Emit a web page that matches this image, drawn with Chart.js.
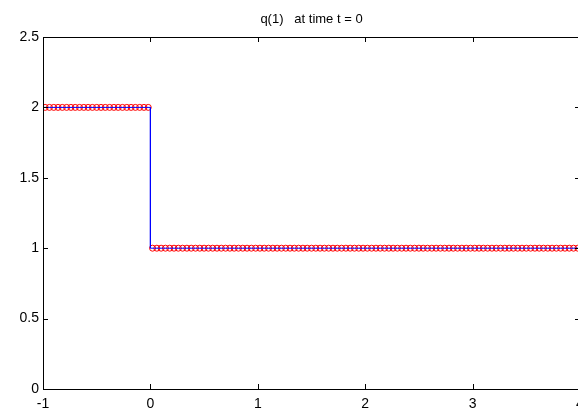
<!DOCTYPE html>
<html>
<head>
<meta charset="utf-8">
<script src="https://cdn.jsdelivr.net/npm/chart.js@4"></script>
<style>
  html, body { margin: 0; padding: 0; background: #fff; overflow: hidden; }
  #wrap { width: 578px; height: 411px; overflow: hidden; }
</style>
</head>
<body>
<div id="wrap"><canvas id="chart" width="640" height="411"></canvas></div>
<script>
// cell centres and cell values (q(1) at t = 0)
const cellX = [
  -0.98, -0.94, -0.90, -0.86, -0.82, -0.78, -0.74, -0.70, -0.66, -0.62, -0.58, -0.54, -0.50,
  -0.46, -0.42, -0.38, -0.34, -0.30, -0.26, -0.22, -0.18, -0.14, -0.10, -0.06, -0.02,
  0.02, 0.06, 0.10, 0.14, 0.18, 0.22, 0.26, 0.30, 0.34, 0.38, 0.42, 0.46, 0.50,
  0.54, 0.58, 0.62, 0.66, 0.70, 0.74, 0.78, 0.82, 0.86, 0.90, 0.94, 0.98,
  1.02, 1.06, 1.10, 1.14, 1.18, 1.22, 1.26, 1.30, 1.34, 1.38, 1.42, 1.46, 1.50,
  1.54, 1.58, 1.62, 1.66, 1.70, 1.74, 1.78, 1.82, 1.86, 1.90, 1.94, 1.98,
  2.02, 2.06, 2.10, 2.14, 2.18, 2.22, 2.26, 2.30, 2.34, 2.38, 2.42, 2.46, 2.50,
  2.54, 2.58, 2.62, 2.66, 2.70, 2.74, 2.78, 2.82, 2.86, 2.90, 2.94, 2.98,
  3.02, 3.06, 3.10, 3.14, 3.18, 3.22, 3.26, 3.30, 3.34, 3.38, 3.42, 3.46, 3.50,
  3.54, 3.58, 3.62, 3.66, 3.70, 3.74, 3.78, 3.82, 3.86, 3.90, 3.94, 3.98
];
const cellQ = [
  2, 2, 2, 2, 2, 2, 2, 2, 2, 2, 2, 2, 2, 2, 2, 2, 2, 2, 2, 2, 2, 2, 2, 2, 2,
  1, 1, 1, 1, 1, 1, 1, 1, 1, 1, 1, 1, 1, 1, 1, 1, 1, 1, 1, 1, 1, 1, 1, 1, 1,
  1, 1, 1, 1, 1, 1, 1, 1, 1, 1, 1, 1, 1, 1, 1, 1, 1, 1, 1, 1, 1, 1, 1, 1, 1,
  1, 1, 1, 1, 1, 1, 1, 1, 1, 1, 1, 1, 1, 1, 1, 1, 1, 1, 1, 1, 1, 1, 1, 1, 1,
  1, 1, 1, 1, 1, 1, 1, 1, 1, 1, 1, 1, 1, 1, 1, 1, 1, 1, 1, 1, 1, 1, 1, 1, 1
];
// exact step profile
const exactX = [-1, 0, 0, 4];
const exactQ = [2, 2, 1, 1];
const titleText = "q(1)   at time t = 0";

const FONT = '"Liberation Sans", Arial, Helvetica, sans-serif';

const frameTicks = {
    id: "frameTicks",
    afterDatasetsDraw(chart) {
        const { ctx, chartArea: a, scales } = chart;
        ctx.save();
        ctx.strokeStyle = "#000";
        ctx.lineWidth = 1;
        ctx.strokeRect(Math.round(a.left) + 0.5, Math.round(a.top) + 0.5,
            Math.round(a.right - a.left), Math.round(a.bottom - a.top));
        ctx.beginPath();
        scales.x.ticks.forEach((t) => {
            const px = Math.round(scales.x.getPixelForValue(t.value)) + 0.5;
            ctx.moveTo(px, a.bottom); ctx.lineTo(px, a.bottom - 5);
            ctx.moveTo(px, a.top); ctx.lineTo(px, a.top + 5);
        });
        scales.y.ticks.forEach((t) => {
            const py = Math.round(scales.y.getPixelForValue(t.value)) + 0.5;
            ctx.moveTo(a.left, py); ctx.lineTo(a.left + 5, py);
            ctx.moveTo(a.right, py); ctx.lineTo(a.right - 5, py);
        });
        ctx.stroke();
        ctx.fillStyle = "#000";
        ctx.font = "13px " + FONT;
        ctx.textAlign = "center";
        ctx.textBaseline = "middle";
        ctx.fillText(titleText, (a.left + a.right) / 2, 19);
        ctx.restore();
    }
};

new Chart(document.getElementById("chart"), {
    type: "scatter",
    data: {
        datasets: [
            {
                label: "exact",
                data: exactX.map((x, i) => ({ x: x, y: exactQ[i] })),
                showLine: true,
                borderColor: "#0000ff",
                borderWidth: 1,
                pointRadius: 0,
                order: 0,
            },
            {
                label: "q(1)",
                data: cellX.map((x, i) => ({ x: x, y: cellQ[i] })),
                showLine: false,
                pointStyle: "circle",
                pointRadius: 3,
                borderColor: "#ff0000",
                backgroundColor: "rgba(0,0,0,0)",
                borderWidth: 1,
                order: 1,
            },
        ],
    },
    options: {
        responsive: false,
        animation: false,
        layout: { padding: { top: 37, right: 60, left: 0, bottom: 0 } },
        plugins: { legend: { display: false }, title: { display: false }, tooltip: { enabled: false } },
        scales: {
            x: {
                type: "linear",
                min: -1,
                max: 4,
                grid: { display: false, drawTicks: false },
                border: { display: false },
                ticks: { stepSize: 1, color: "#000", font: { family: FONT, size: 14 }, padding: 7, maxRotation: 0 },
                afterFit: (s) => { s.height = 22; },
            },
            y: {
                min: 0,
                max: 2.5,
                grid: { display: false, drawTicks: false },
                border: { display: false },
                ticks: {
                    stepSize: 0.5,
                    color: "#000",
                    font: { family: FONT, size: 14 },
                    padding: 4,
                    callback: (value) => String(value),
                },
                afterFit: (s) => { s.width = 43; },
            },
        },
    },
    plugins: [frameTicks],
});
</script>
</body>
</html>
